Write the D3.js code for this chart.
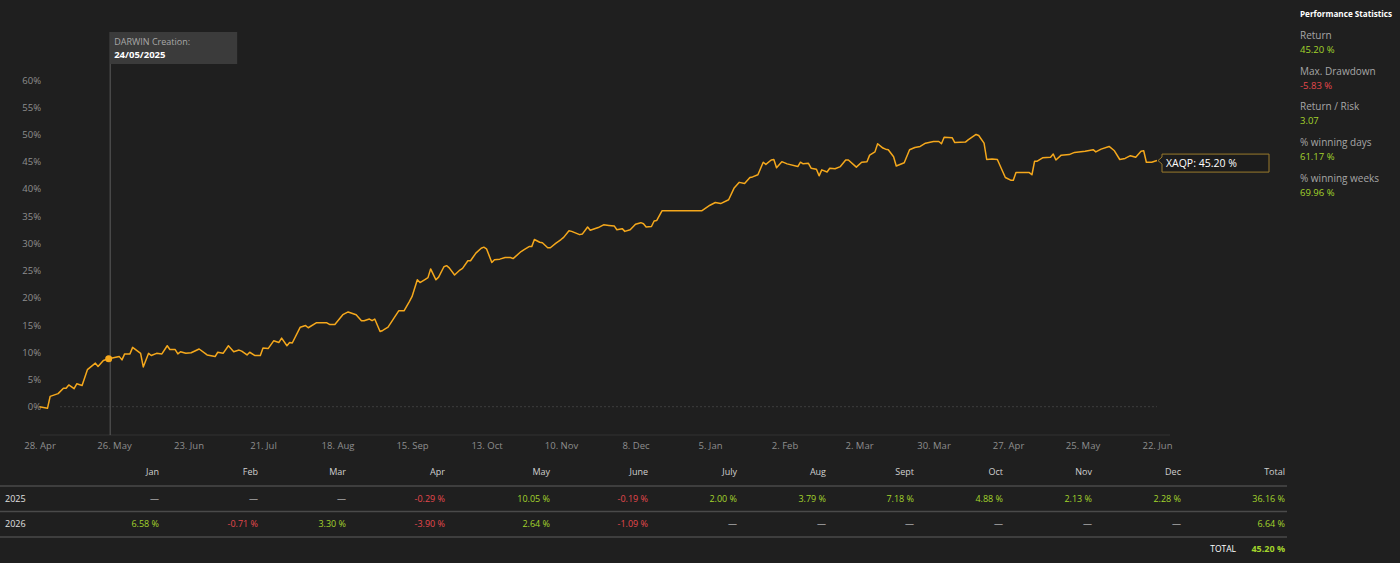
<!DOCTYPE html>
<html>
<head>
<meta charset="utf-8">
<script src="https://cdn.jsdelivr.net/npm/d3@7"></script>
<style>
  body { margin: 0; background: #1f1f1f; }
  svg { display: block; font-family: "Open Sans", sans-serif; }
</style>
</head>
<body>
<script>
// Cumulative return of XAQP (%)
var dates = [
  "2025-04-28","2025-04-30","2025-05-01","2025-05-02","2025-05-05","2025-05-07","2025-05-08","2025-05-09",
  "2025-05-11","2025-05-12","2025-05-14","2025-05-16","2025-05-19","2025-05-20","2025-05-22","2025-05-24",
  "2025-05-28","2025-05-29","2025-05-30","2025-06-01","2025-06-02","2025-06-05","2025-06-06","2025-06-08",
  "2025-06-09","2025-06-11","2025-06-13","2025-06-15","2025-06-16","2025-06-18","2025-06-19","2025-06-20",
  "2025-06-22","2025-06-24","2025-06-27","2025-06-30","2025-07-03","2025-07-04","2025-07-06","2025-07-08",
  "2025-07-10","2025-07-12","2025-07-13","2025-07-15","2025-07-16","2025-07-18","2025-07-20","2025-07-21",
  "2025-07-23","2025-07-25","2025-07-27","2025-07-28","2025-07-30","2025-07-31","2025-08-01","2025-08-04",
  "2025-08-06","2025-08-07","2025-08-10","2025-08-14","2025-08-15","2025-08-17","2025-08-20","2025-08-22",
  "2025-08-25","2025-08-27","2025-08-28","2025-08-30","2025-08-31","2025-09-01","2025-09-03","2025-09-04",
  "2025-09-06","2025-09-10","2025-09-12","2025-09-14","2025-09-15","2025-09-17","2025-09-18","2025-09-20",
  "2025-09-21","2025-09-22","2025-09-24","2025-09-25","2025-09-27","2025-09-28","2025-09-29","2025-10-01",
  "2025-10-03","2025-10-04","2025-10-06","2025-10-07","2025-10-09","2025-10-11","2025-10-12","2025-10-13",
  "2025-10-15","2025-10-16","2025-10-18","2025-10-20","2025-10-22","2025-10-23","2025-10-26","2025-10-27",
  "2025-10-29","2025-10-30","2025-10-31","2025-11-02","2025-11-03","2025-11-05","2025-11-06","2025-11-08",
  "2025-11-10","2025-11-11","2025-11-13","2025-11-14","2025-11-17","2025-11-18","2025-11-20","2025-11-21",
  "2025-11-24","2025-11-26","2025-11-28","2025-11-30","2025-12-01","2025-12-03","2025-12-04","2025-12-06",
  "2025-12-08","2025-12-10","2025-12-11","2025-12-12","2025-12-14","2025-12-15","2025-12-16","2025-12-18",
  "2026-01-02","2026-01-05","2026-01-07","2026-01-09","2026-01-12","2026-01-14","2026-01-16","2026-01-18",
  "2026-01-20","2026-01-21","2026-01-23","2026-01-25","2026-01-26","2026-01-28","2026-01-29","2026-01-30",
  "2026-02-01","2026-02-03","2026-02-07","2026-02-08","2026-02-09","2026-02-11","2026-02-12","2026-02-14",
  "2026-02-15","2026-02-16","2026-02-18","2026-02-19","2026-02-21","2026-02-23","2026-02-25","2026-02-26",
  "2026-03-01","2026-03-03","2026-03-05","2026-03-06","2026-03-08","2026-03-09","2026-03-11","2026-03-12",
  "2026-03-13","2026-03-15","2026-03-16","2026-03-19","2026-03-21","2026-03-23","2026-03-25","2026-03-27",
  "2026-03-30","2026-04-01","2026-04-02","2026-04-03","2026-04-06","2026-04-07","2026-04-11","2026-04-12",
  "2026-04-15","2026-04-16","2026-04-18","2026-04-19","2026-04-21","2026-04-23","2026-04-25","2026-04-26",
  "2026-04-28","2026-04-29","2026-04-30","2026-05-05","2026-05-06","2026-05-07","2026-05-08","2026-05-10",
  "2026-05-13","2026-05-14","2026-05-15","2026-05-17","2026-05-20","2026-05-22","2026-05-26","2026-05-29",
  "2026-05-30","2026-06-01","2026-06-04","2026-06-06","2026-06-08","2026-06-10","2026-06-12","2026-06-14",
  "2026-06-16","2026-06-17","2026-06-18","2026-06-20","2026-06-22"
];
var returns = [
  0.0,-0.2,-0.3,1.9,2.4,3.4,3.4,4.0,
  3.3,4.2,3.9,6.8,8.0,7.4,8.5,8.8,
  9.2,8.6,9.7,9.7,10.9,9.8,7.3,9.8,
  9.4,9.8,9.7,11.2,10.5,10.5,9.7,10.1,
  9.8,9.9,10.6,9.5,9.2,10.0,9.8,11.2,
  10.1,10.4,10.2,9.5,10.0,9.4,9.4,10.8,
  10.7,12.1,11.8,12.6,11.2,11.8,11.7,14.6,
  14.9,14.5,15.4,15.4,15.1,15.1,16.9,17.4,
  16.9,15.8,15.8,16.1,15.8,16.1,13.8,14.0,
  14.6,17.6,17.6,19.3,20.2,23.3,22.8,23.4,
  23.7,25.3,23.3,23.8,25.7,25.9,25.5,24.2,
  25.1,25.4,26.8,26.8,28.2,29.1,29.3,29.0,
  26.5,27.0,27.1,27.4,27.4,27.2,28.5,28.8,
  29.4,29.4,30.7,30.2,30.1,29.2,29.2,30.0,
  30.7,31.1,32.3,32.2,31.6,31.7,33.0,32.4,
  32.9,33.4,33.3,33.2,32.5,32.7,32.2,32.5,
  33.5,33.8,33.6,33.0,33.1,34.1,34.2,36.0,
  36.0,37.0,37.5,37.3,38.0,40.1,41.2,41.0,
  42.1,42.2,42.6,44.9,44.5,45.3,45.4,43.9,
  45.0,44.6,44.1,44.9,44.6,44.7,43.8,43.6,
  42.4,43.5,43.1,43.8,43.7,44.1,45.3,45.3,
  44.0,44.9,45.0,46.2,46.8,48.3,47.5,47.3,
  47.2,45.9,44.2,44.8,47.2,47.6,47.8,48.4,
  48.7,48.7,48.3,49.5,49.4,48.5,48.6,49.0,
  50.0,49.8,48.4,45.4,45.5,45.4,43.2,42.1,
  41.6,41.6,43.0,43.0,42.6,45.1,45.1,45.7,
  45.8,46.4,45.3,46.2,46.3,46.7,46.9,47.2,
  46.8,47.3,47.8,47.0,45.4,45.6,46.1,45.8,
  46.9,47.0,44.9,44.9,45.2
];

var creationDate = "2025-05-24";
var seriesName = "XAQP";
var xTickDates = ["2025-04-28","2025-05-26","2025-06-23","2025-07-21","2025-08-18","2025-09-15","2025-10-13",
  "2025-11-10","2025-12-08","2026-01-05","2026-02-02","2026-03-02","2026-03-30","2026-04-27","2026-05-25","2026-06-22"];
var yTicks = [0, 5, 10, 15, 20, 25, 30, 35, 40, 45, 50, 55, 60];

// Monthly returns table
var monthLabels = ["Jan","Feb","Mar","Apr","May","June","July","Aug","Sept","Oct","Nov","Dec"];
var years = ["2025", "2026"];
var monthly2025 = [null, null, null, -0.29, 10.05, -0.19, 2.00, 3.79, 7.18, 4.88, 2.13, 2.28];
var monthly2026 = [6.58, -0.71, 3.30, -3.90, 2.64, -1.09, null, null, null, null, null, null];
var yearTotals = [36.16, 6.64];
var grandTotal = 45.20;

// Performance statistics
var statNames = ["Return", "Max. Drawdown", "Return / Risk", "% winning days", "% winning weeks"];
var statValues = ["45.20 %", "-5.83 %", "3.07", "61.17 %", "69.96 %"];

var w = 1400, h = 563;
var GREEN = "#a3d42c", RED = "#e5484d", ORANGE = "#f5a81c";

var parse = d3.utcParse("%Y-%m-%d");
var data = dates.map(function(d, i) { return { date: parse(d), value: returns[i] }; });

var svg = d3.select("body").append("svg")
  .attr("width", w)
  .attr("height", h);

var x = d3.scaleUtc()
  .domain([parse(xTickDates[0]), parse(xTickDates[xTickDates.length - 1])])
  .range([39.5, 1157]);

var y = d3.scaleLinear()
  .domain([0, 60])
  .range([406.7, 80]);

// zero line
svg.append("line")
  .attr("x1", 60).attr("x2", x.range()[1])
  .attr("y1", y(0)).attr("y2", y(0))
  .attr("stroke", "#3e3e3e")
  .attr("stroke-dasharray", "2,2");

// x axis baseline
svg.append("line")
  .attr("x1", 40).attr("x2", 1170)
  .attr("y1", 435).attr("y2", 435)
  .attr("stroke", "#333");

// y axis
var yAxis = svg.append("g")
  .attr("transform", "translate(41,0)")
  .call(d3.axisLeft(y).tickValues(yTicks).tickSize(0).tickPadding(0)
    .tickFormat(function(d) { return d + "%"; }));
yAxis.select(".domain").remove();
yAxis.selectAll("text").attr("fill", "#8e8e8e").style("font-size", "9.5px").attr("font-family", "Open Sans");

// x axis
var xAxis = svg.append("g")
  .attr("transform", "translate(0,438)")
  .call(d3.axisBottom(x).tickValues(xTickDates.map(parse)).tickSize(0).tickPadding(4)
    .tickFormat(d3.utcFormat("%-d. %b")));
xAxis.select(".domain").remove();
xAxis.selectAll("text").attr("fill", "#8e8e8e").style("font-size", "9.5px").attr("font-family", "Open Sans");

// creation marker line + label
var cx = x(parse(creationDate)) + 1.5;
svg.append("line")
  .attr("x1", cx).attr("x2", cx)
  .attr("y1", 32).attr("y2", 435)
  .attr("stroke", "#5c5c5c");

svg.append("rect")
  .attr("x", cx).attr("y", 32)
  .attr("width", 127).attr("height", 32)
  .attr("fill", "#3b3b3b");
svg.append("text")
  .attr("x", cx + 4).attr("y", 45)
  .attr("fill", "#a8a8a8").style("font-size", "9px")
  .text("DARWIN Creation:");
svg.append("text")
  .attr("x", cx + 4).attr("y", 58)
  .attr("fill", "#fff").style("font-size", "9.5px").style("font-weight", "bold")
  .text(d3.utcFormat("%d/%m/%Y")(parse(creationDate)));

// return line
var line = d3.line()
  .x(function(d) { return x(d.date); })
  .y(function(d) { return y(d.value); });

svg.append("path")
  .datum(data)
  .attr("fill", "none")
  .attr("stroke", ORANGE)
  .attr("stroke-width", 1.5)
  .attr("stroke-linejoin", "round")
  .attr("d", line);

var cPoint = data.filter(function(d) { return +d.date === +parse(creationDate); })[0];
svg.append("circle")
  .attr("cx", x(cPoint.date)).attr("cy", y(cPoint.value))
  .attr("r", 3.5)
  .attr("fill", ORANGE);

// last value tooltip
var last = data[data.length - 1];
var lx = x(last.date), ly = y(last.value);
var tip = svg.append("g").attr("transform", "translate(" + (lx + 5) + "," + (ly - 6.5) + ")");
tip.append("path")
  .attr("d", "M0,0 H107 V18 H0 V10 L-4,6.5 L0,3 Z")
  .attr("fill", "#1c1c1c")
  .attr("stroke", "#9a7a2c");
tip.append("text")
  .attr("x", 4).attr("y", 13)
  .attr("fill", "#fff").style("font-size", "10.5px")
  .text(seriesName + ": " + last.value.toFixed(2) + " %");

// performance statistics panel
var panel = svg.append("g").attr("transform", "translate(1300,0)");
panel.append("text")
  .attr("x", 0).attr("y", 17)
  .attr("fill", "#fff").style("font-size", "8.5px").style("font-weight", "bold")
  .attr("textLength", 92).attr("lengthAdjust", "spacingAndGlyphs")
  .text("Performance Statistics");
statNames.forEach(function(name, i) {
  var top = 39 + i * 35.7;
  panel.append("text")
    .attr("x", 0).attr("y", top)
    .attr("fill", "#a6a6a6").style("font-size", "10px")
    .text(name);
  panel.append("text")
    .attr("x", 0).attr("y", top + 14)
    .attr("fill", statValues[i].charAt(0) === "-" ? RED : GREEN)
    .style("font-size", "9.5px")
    .text(statValues[i]);
});

// monthly table
var colRight = [159, 258, 346, 445, 550, 648, 737, 826, 914, 1003, 1092, 1181];
var totalRight = 1285;
var fmt = function(v) { return v.toFixed(2) + " %"; };
var table = svg.append("g").style("font-size", "9px");

table.selectAll("text.head")
  .data(monthLabels.concat(["Total"]))
  .enter().append("text")
  .attr("class", "head")
  .attr("x", function(d, i) { return i < 12 ? colRight[i] : totalRight; })
  .attr("y", 475)
  .attr("text-anchor", "end")
  .attr("fill", "#d0d0d0")
  .text(function(d) { return d; });

[486, 511.5, 537].forEach(function(ly) {
  table.append("line")
    .attr("x1", 0).attr("x2", 1287)
    .attr("y1", ly).attr("y2", ly)
    .attr("stroke", "#4a4a4a").attr("stroke-width", 1.5);
});

[monthly2025, monthly2026].forEach(function(row, r) {
  var ry = 501.5 + r * 25.5;
  table.append("text")
    .attr("x", 5).attr("y", ry)
    .attr("fill", "#e0e0e0")
    .text(years[r]);
  table.selectAll("text.r" + r)
    .data(row)
    .enter().append("text")
    .attr("class", "r" + r)
    .attr("x", function(d, i) { return colRight[i]; })
    .attr("y", ry)
    .attr("text-anchor", "end")
    .attr("fill", function(d) { return d === null ? "#e0e0e0" : (d < 0 ? RED : GREEN); })
    .text(function(d) { return d === null ? "—" : fmt(d); });
  table.append("text")
    .attr("x", totalRight).attr("y", ry)
    .attr("text-anchor", "end")
    .attr("fill", yearTotals[r] < 0 ? RED : GREEN)
    .text(fmt(yearTotals[r]));
});

table.append("text")
  .attr("x", 1236).attr("y", 552)
  .attr("text-anchor", "end")
  .attr("fill", "#fff").style("font-size", "8.5px")
  .text("TOTAL");
table.append("text")
  .attr("x", totalRight).attr("y", 552)
  .attr("text-anchor", "end")
  .attr("fill", GREEN).style("font-weight", "bold")
  .text(fmt(grandTotal));
</script>
</body>
</html>
